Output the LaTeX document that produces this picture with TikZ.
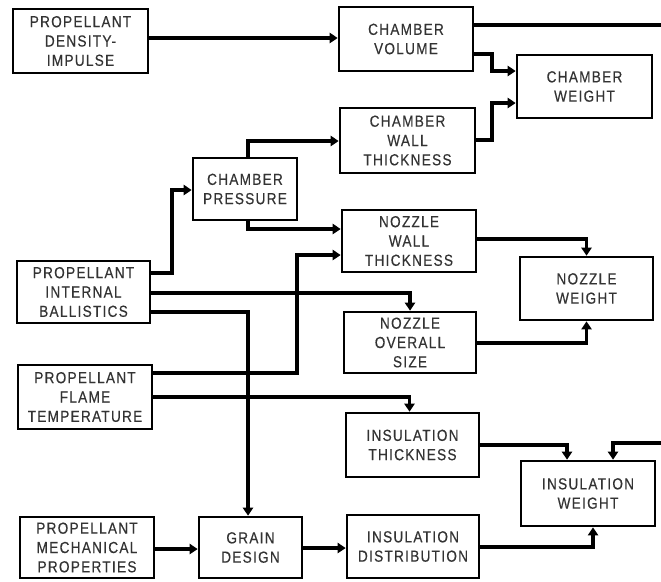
\documentclass[tikz,border=0pt]{standalone}
\usepackage{fontspec}
\setmainfont{Liberation Sans}[FakeStretch=0.85, LetterSpace=8, FakeBold=0.4]
\usetikzlibrary{arrows.meta}
\begin{document}
\begin{tikzpicture}[x=1pt,y=-1pt,
  box/.style={draw=black, line width=2.6pt, align=center, inner sep=0pt,
    text=black!80, font=\fontsize{16}{19.3}\selectfont},
  ln/.style={line width=3.4pt, line cap=butt},
  arr/.style={ln, -{Triangle[length=8pt,width=10pt]}}]
\useasboundingbox (0,0) rectangle (661,581);

\node[box, minimum width=135pt, minimum height=64pt] (pdi) at (80.5,41) {PROPELLANT\\DENSITY-\\IMPULSE};
\node[box, minimum width=134pt, minimum height=64pt] (cv) at (406,39) {CHAMBER\\VOLUME};
\node[box, minimum width=135pt, minimum height=63pt] (cw) at (584.5,86.5) {CHAMBER\\WEIGHT};
\node[box, minimum width=135pt, minimum height=65pt] (cwt) at (407.5,140.5) {CHAMBER\\WALL\\THICKNESS};
\node[box, minimum width=104pt, minimum height=62pt] (cp) at (245,189) {CHAMBER\\PRESSURE};
\node[box, minimum width=133pt, minimum height=62pt] (pib) at (83.5,292) {PROPELLANT\\INTERNAL\\BALLISTICS};
\node[box, minimum width=134pt, minimum height=62pt] (nwt) at (409,241) {NOZZLE\\WALL\\THICKNESS};
\node[box, minimum width=132pt, minimum height=61pt] (nos) at (410,342.5) {NOZZLE\\OVERALL\\SIZE};
\node[box, minimum width=133pt, minimum height=63pt] (nw) at (586.5,288.5) {NOZZLE\\WEIGHT};
\node[box, minimum width=134pt, minimum height=64pt] (pft) at (85,397) {PROPELLANT\\FLAME\\TEMPERATURE};
\node[box, minimum width=133pt, minimum height=64pt] (it) at (412.5,445) {INSULATION\\THICKNESS};
\node[box, minimum width=134pt, minimum height=65pt] (iw) at (588,493.5) {INSULATION\\WEIGHT};
\node[box, minimum width=103pt, minimum height=61pt] (gd) at (250.5,547.5) {GRAIN\\DESIGN};
\node[box, minimum width=134pt, minimum height=61pt] (pmp) at (87,547.5) {PROPELLANT\\MECHANICAL\\PROPERTIES};
\node[box, minimum width=132pt, minimum height=63pt] (id) at (413,546.5) {INSULATION\\DISTRIBUTION};

\coordinate (edgeA) at (661,25);
\coordinate (edgeB) at (661,443);

\draw[arr] (pdi.east |- 0,38) -- (cv.west |- 0,38);
\draw[ln] (cv.east |- 0,25) -- (edgeA);
\draw[arr] (cv.east |- 0,54) -- (492,54) |- (cw.west |- 0,71);
\draw[arr] (cwt.east |- 0,140) -- (492,140) |- (cw.west |- 0,103);
\draw[arr] ([xshift=3pt]cp.north) |- (cwt.west |- 0,141);
\draw[arr] ([xshift=3pt]cp.south) |- (nwt.west |- 0,229);
\draw[arr] (pib.east |- 0,273) -- (172,273) |- (cp.west |- 0,190);
\draw[arr] (pft.east |- 0,373) -- (297,373) |- (nwt.west |- 0,255);
\draw[arr] (pib.east |- 0,293) -| (nos.north);
\draw[arr] (pib.east |- 0,312) -| ([xshift=-2.5pt]gd.north);
\draw[arr] (pft.east |- 0,397) -| ([xshift=-3pt]it.north);
\draw[arr] (nwt.east |- 0,239) -| (nw.north);
\draw[arr] (nos.east |- 0,343) -| (nw.south);
\draw[arr] (it.east |- 0,445) -| ([xshift=-21pt]iw.north);
\draw[arr] (edgeB) -| ([xshift=25pt]iw.north);
\draw[arr] (pmp.east |- 0,549) -- (gd.west |- 0,549);
\draw[arr] (gd.east |- 0,548) -- (id.west |- 0,548);
\draw[arr] (id.east |- 0,547) -| ([xshift=5pt]iw.south);
\end{tikzpicture}
\end{document}
